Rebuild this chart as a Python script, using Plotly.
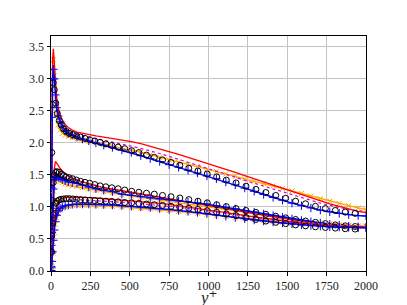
import plotly.graph_objects as go

# wall-normal positions (y+) for model lines
yl = [0, 1, 3, 6, 10, 15, 21, 28, 36, 46, 58, 72, 90, 110, 135, 165, 200, 240, 285, 335,
      390, 450, 510, 570, 630, 690, 750, 810, 870, 930, 990, 1050, 1110, 1170, 1230, 1290,
      1350, 1410, 1470, 1530, 1590, 1650, 1710, 1770, 1830, 1890, 1950, 2000]
# wall-normal positions (y+) for reference (DNS) symbols
yc = [2, 5, 9, 14, 21, 30, 40, 52, 65, 80, 97, 116, 138, 162, 188, 216, 246, 278, 312, 348,
      386, 426, 468, 512, 558, 606, 656, 708, 762, 818, 875, 933, 992, 1052, 1113, 1175,
      1238, 1301, 1364, 1427, 1490, 1553, 1616, 1679, 1742, 1805, 1868, 1931]

# ---- streamwise (top group) ----
u_dns = [0.75, 1.85, 2.6, 2.94, 2.83, 2.62, 2.46, 2.35, 2.28, 2.22, 2.18, 2.15, 2.13, 2.11, 2.09, 2.07,
         2.05, 2.03, 2.01, 1.985, 1.96, 1.935, 1.91, 1.88, 1.85, 1.81, 1.775, 1.735, 1.695, 1.65,
         1.605, 1.56, 1.515, 1.47, 1.42, 1.375, 1.325, 1.275, 1.225, 1.18, 1.135, 1.09, 1.05, 1.01,
         0.975, 0.945, 0.92, 0.90]
u_red = [0, 0.45, 1.4, 2.6, 3.3, 3.47, 3.25, 2.95, 2.72, 2.55, 2.43, 2.36, 2.29, 2.24, 2.20, 2.17,
         2.15, 2.13, 2.11, 2.09, 2.07, 2.045, 2.02, 1.99, 1.95, 1.91, 1.865, 1.82, 1.775, 1.73,
         1.68, 1.635, 1.585, 1.54, 1.49, 1.44, 1.39, 1.34, 1.29, 1.24, 1.19, 1.14, 1.095, 1.05,
         1.01, 0.965, 0.93, 0.91]
u_blue = [0, 0.4, 1.3, 2.4, 3.0, 3.15, 3.0, 2.75, 2.55, 2.42, 2.33, 2.26, 2.19, 2.15, 2.12, 2.09,
          2.06, 2.03, 2.0, 1.965, 1.93, 1.89, 1.85, 1.80, 1.755, 1.71, 1.66, 1.62, 1.575, 1.53,
          1.485, 1.44, 1.39, 1.345, 1.295, 1.245, 1.195, 1.15, 1.105, 1.06, 1.02, 0.985, 0.95,
          0.925, 0.90, 0.88, 0.865, 0.86]
u_orange = [0, 0.4, 1.3, 2.5, 3.15, 3.3, 3.05, 2.7, 2.45, 2.28, 2.2, 2.15, 2.12, 2.10, 2.08, 2.06,
            2.04, 2.02, 2.0, 1.975, 1.95, 1.92, 1.89, 1.855, 1.815, 1.775, 1.735, 1.70, 1.665, 1.63,
            1.59, 1.555, 1.515, 1.48, 1.44, 1.40, 1.365, 1.33, 1.29, 1.25, 1.21, 1.17, 1.13, 1.09,
            1.055, 1.02, 0.985, 0.96]
u_mag = [0, 0.4, 1.3, 2.45, 3.05, 3.2, 3.0, 2.75, 2.55, 2.42, 2.33, 2.27, 2.22, 2.19, 2.16, 2.13,
         2.11, 2.09, 2.07, 2.04, 2.01, 1.98, 1.95, 1.915, 1.88, 1.835, 1.79, 1.745, 1.70, 1.65,
         1.605, 1.56, 1.51, 1.465, 1.415, 1.37, 1.32, 1.275, 1.23, 1.185, 1.14, 1.10, 1.06, 1.025,
         0.99, 0.96, 0.94, 0.93]

# ---- spanwise (middle group) ----
w_dns = [0.3, 0.7, 1.1, 1.38, 1.50, 1.54, 1.55, 1.54, 1.51, 1.49, 1.47, 1.455, 1.44, 1.42, 1.40, 1.385,
         1.37, 1.35, 1.33, 1.315, 1.30, 1.285, 1.265, 1.245, 1.23, 1.215, 1.20, 1.18, 1.16, 1.14,
         1.115, 1.09, 1.065, 1.035, 1.005, 0.975, 0.945, 0.915, 0.885, 0.855, 0.83, 0.805, 0.78,
         0.76, 0.74, 0.72, 0.705, 0.695]
w_red = [0, 0.08, 0.3, 0.65, 1.05, 1.38, 1.6, 1.71, 1.69, 1.65, 1.6, 1.56, 1.52, 1.48, 1.45, 1.42,
         1.39, 1.36, 1.33, 1.30, 1.28, 1.25, 1.23, 1.205, 1.18, 1.16, 1.135, 1.11, 1.085, 1.06,
         1.03, 1.0, 0.975, 0.95, 0.92, 0.895, 0.87, 0.845, 0.82, 0.80, 0.78, 0.76, 0.745, 0.73,
         0.715, 0.705, 0.695, 0.69]
w_blue = [0, 0.07, 0.28, 0.6, 0.98, 1.28, 1.43, 1.48, 1.47, 1.46, 1.45, 1.43, 1.41, 1.39, 1.38, 1.37,
          1.34, 1.31, 1.285, 1.26, 1.24, 1.20, 1.18, 1.16, 1.14, 1.125, 1.11, 1.095, 1.08, 1.065,
          1.045, 1.02, 0.995, 0.97, 0.945, 0.92, 0.89, 0.865, 0.84, 0.815, 0.79, 0.77, 0.75, 0.73,
          0.715, 0.70, 0.69, 0.685]
w_orange = [0, 0.07, 0.27, 0.58, 0.95, 1.25, 1.40, 1.45, 1.44, 1.42, 1.40, 1.38, 1.36, 1.345, 1.33, 1.32,
            1.30, 1.28, 1.26, 1.24, 1.22, 1.19, 1.17, 1.15, 1.13, 1.11, 1.09, 1.07, 1.05, 1.03,
            1.01, 0.99, 0.965, 0.94, 0.915, 0.89, 0.865, 0.84, 0.82, 0.80, 0.78, 0.765, 0.75, 0.735,
            0.72, 0.71, 0.70, 0.70]
w_mag = [0, 0.08, 0.3, 0.63, 1.02, 1.33, 1.52, 1.60, 1.59, 1.56, 1.52, 1.49, 1.46, 1.44, 1.42, 1.40,
         1.38, 1.355, 1.33, 1.30, 1.275, 1.25, 1.225, 1.20, 1.18, 1.155, 1.13, 1.105, 1.08, 1.055,
         1.03, 1.0, 0.975, 0.95, 0.925, 0.90, 0.875, 0.85, 0.825, 0.805, 0.785, 0.765, 0.75, 0.735,
         0.72, 0.71, 0.70, 0.695]

# ---- wall-normal (lower group) ----
v_dns = [0.3, 0.55, 0.75, 0.88, 0.99, 1.06, 1.09, 1.11, 1.12, 1.125, 1.13, 1.13, 1.125, 1.12, 1.115, 1.11,
         1.105, 1.10, 1.095, 1.09, 1.085, 1.08, 1.07, 1.065, 1.055, 1.045, 1.035, 1.025, 1.01, 0.995,
         0.98, 0.96, 0.94, 0.915, 0.89, 0.865, 0.835, 0.805, 0.78, 0.76, 0.74, 0.72, 0.705, 0.69,
         0.68, 0.67, 0.66, 0.655]
v_red = [0, 0.01, 0.06, 0.2, 0.4, 0.6, 0.78, 0.92, 1.02, 1.08, 1.12, 1.14, 1.15, 1.155, 1.155, 1.155,
         1.15, 1.145, 1.14, 1.13, 1.12, 1.11, 1.10, 1.085, 1.07, 1.055, 1.04, 1.02, 1.0, 0.98,
         0.96, 0.94, 0.915, 0.89, 0.87, 0.845, 0.825, 0.80, 0.78, 0.765, 0.75, 0.735, 0.72, 0.71,
         0.70, 0.695, 0.69, 0.69]
v_blue = [0, 0.01, 0.05, 0.15, 0.3, 0.48, 0.64, 0.77, 0.87, 0.94, 0.98, 1.0, 1.02, 1.03, 1.04, 1.045,
          1.045, 1.045, 1.04, 1.035, 1.03, 1.02, 1.01, 1.0, 0.99, 0.975, 0.96, 0.945, 0.93, 0.915,
          0.895, 0.875, 0.855, 0.835, 0.815, 0.795, 0.78, 0.765, 0.75, 0.735, 0.72, 0.71, 0.70,
          0.69, 0.685, 0.68, 0.675, 0.675]
v_orange = [0, 0.01, 0.05, 0.14, 0.28, 0.45, 0.6, 0.73, 0.83, 0.9, 0.95, 0.98, 1.0, 1.01, 1.02, 1.025,
            1.025, 1.025, 1.02, 1.015, 1.01, 1.0, 0.99, 0.98, 0.97, 0.96, 0.945, 0.93, 0.915, 0.90,
            0.885, 0.865, 0.85, 0.83, 0.815, 0.80, 0.785, 0.77, 0.76, 0.745, 0.735, 0.725, 0.715,
            0.71, 0.705, 0.70, 0.70, 0.70]
v_mag = [0, 0.01, 0.06, 0.18, 0.36, 0.55, 0.72, 0.86, 0.96, 1.03, 1.07, 1.09, 1.105, 1.11, 1.115, 1.115,
         1.11, 1.105, 1.10, 1.095, 1.085, 1.075, 1.065, 1.05, 1.04, 1.025, 1.01, 0.995, 0.975, 0.955,
         0.935, 0.915, 0.895, 0.87, 0.85, 0.83, 0.81, 0.79, 0.775, 0.76, 0.745, 0.73, 0.72, 0.71,
         0.70, 0.695, 0.69, 0.69]

x_ticks = [0, 250, 500, 750, 1000, 1250, 1500, 1750, 2000]
y_ticks = [0.0, 0.5, 1.0, 1.5, 2.0, 2.5, 3.0, 3.5]
x_title = "<i>y</i>\u207a"

RED = "#ff0000"
BLUE = "#0000ff"
ORANGE = "#ffa500"
MAG = "#e000e0"

fig = go.Figure()

groups = [
    (u_red, u_blue, u_orange, u_mag, u_dns),
    (w_red, w_blue, w_orange, w_mag, w_dns),
    (v_red, v_blue, v_orange, v_mag, v_dns),
]

for red, blue, orange, mag, dns in groups:
    fig.add_trace(go.Scatter(x=yl, y=orange, mode="lines+markers",
                             line=dict(color=ORANGE, width=1.4),
                             marker=dict(symbol="x-thin", size=5, line=dict(color=ORANGE, width=1)),
                             showlegend=False))
    fig.add_trace(go.Scatter(x=yl, y=mag, mode="lines",
                             line=dict(color=MAG, width=1.2, dash="dot"),
                             showlegend=False))
    fig.add_trace(go.Scatter(x=yl, y=red, mode="lines",
                             line=dict(color=RED, width=1.3),
                             showlegend=False))
    fig.add_trace(go.Scatter(x=yl, y=blue, mode="lines+markers",
                             line=dict(color=BLUE, width=1.4),
                             marker=dict(symbol="cross-thin", size=6, line=dict(color=BLUE, width=1)),
                             showlegend=False))
    fig.add_trace(go.Scatter(x=yc, y=dns, mode="markers",
                             marker=dict(symbol="circle-open", size=6, color="black",
                                         line=dict(color="black", width=1)),
                             showlegend=False))

FONT = "Liberation Serif, DejaVu Serif, serif"
axis_common = dict(showgrid=True, gridcolor="#c4c4c4", gridwidth=1,
                   showline=True, linecolor="black", linewidth=1, mirror=True,
                   ticks="outside", ticklen=3.5, tickcolor="black", zeroline=False,
                   automargin=False,
                   tickfont=dict(family=FONT, size=12, color="#222"))

fig.update_xaxes(range=[0, 2000], tickvals=x_ticks, ticktext=[str(t) for t in x_ticks],
                 **axis_common)
fig.update_yaxes(range=[0, 3.67], tickvals=y_ticks, ticktext=[f"{t:.1f}" for t in y_ticks],
                 **axis_common)

fig.add_annotation(text=x_title, xref="paper", yref="paper", x=0.5, y=-0.112,
                   xanchor="center", yanchor="middle", showarrow=False, borderpad=0,
                   font=dict(family=FONT, size=17, color="#222"))

# the page body adds an 8 px offset, so margins are trimmed accordingly
fig.update_layout(width=407, height=305, margin=dict(l=43, r=49, t=28, b=42),
                  plot_bgcolor="white", paper_bgcolor="white")

fig.write_html("out.html")
